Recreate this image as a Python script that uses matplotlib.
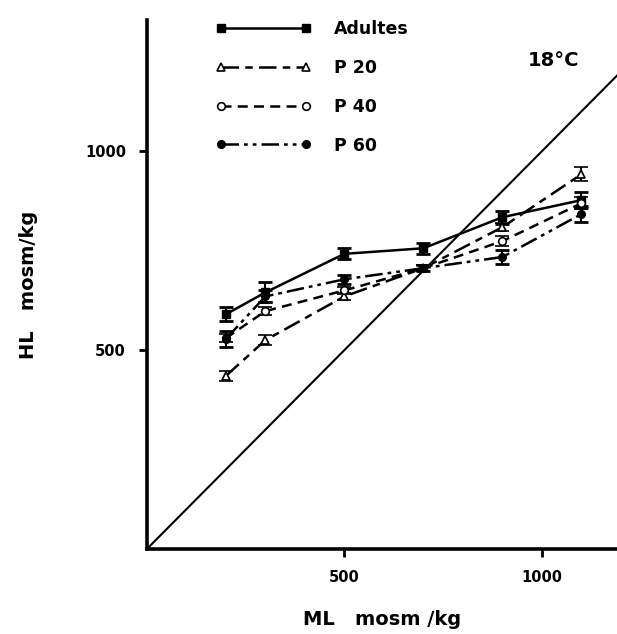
import numpy as np
import matplotlib.pyplot as plt

plt.rcParams["font.family"] = ["DejaVu Sans"]
plt.rcParams["font.weight"] = "bold"

# concentration du milieu (ML) et du sang (HL), mosm/kg
ml = [200, 300, 500, 700, 900, 1100]

adultes = [590, 645, 742, 756, 834, 877]
adultes_err = [18, 25, 14, 14, 16, 20]

p20 = [435, 525, 635, 706, 809, 942]
p20_err = [12, 12, 8, 8, 10, 18]

p40 = [530, 598, 650, 706, 774, 869]
p40_err = [10, 10, 8, 8, 12, 15]

p60 = [528, 635, 678, 706, 734, 842]
p60_err = [20, 15, 12, 8, 18, 20]

fig = plt.figure(figsize=(6.17, 6.34), dpi=100)
ax = fig.add_axes([0.238, 0.134, 0.762, 0.834])

# droite isosmotique
ax.plot([0, 1400], [0, 1400], color="black", lw=1.5, zorder=1)

lw = 1.8
common = dict(color="black", lw=lw, ms=5.5, capsize=5, elinewidth=1.5,
              capthick=2, zorder=3)
ax.errorbar(ml, adultes, yerr=adultes_err, ls="-", marker="s", mfc="black",
            label="Adultes", **common)
ax.errorbar(ml, p20, yerr=p20_err, ls=(0, (7, 2.5, 3, 2.5)), marker="^",
            mfc="white", mew=1.2, label="P 20", **common)
ax.errorbar(ml, p40, yerr=p40_err, ls=(0, (4, 2.5)), marker="o",
            mfc="white", mew=1.2, label="P 40", **common)
ax.errorbar(ml, p60, yerr=p60_err, ls=(0, (7, 2, 1.5, 2, 1.5, 2)),
            marker="o", mfc="black", label="P 60", **common)

ax.set_xlim(0, 1190)
ax.set_ylim(0, 1329)

for side in ["top", "right"]:
    ax.spines[side].set_visible(False)
for side in ["left", "bottom"]:
    ax.spines[side].set_linewidth(2.6)

ax.set_xticks([500, 1000])
ax.set_yticks([500, 1000])
ax.tick_params(direction="out", length=6, width=2, labelsize=10.5, pad=9)

ax.set_xlabel("ML   mosm /kg", fontsize=14, fontweight="bold", labelpad=18)
ax.set_ylabel("HL   mosm/kg", fontsize=14, fontweight="bold", labelpad=34)

ax.text(965, 1215, "18°C", fontsize=14, fontweight="bold")

handles, labels = ax.get_legend_handles_labels()
handles = [h[0] for h in handles]
leg = ax.legend(handles, labels, loc="upper left", bbox_to_anchor=(0.114, 1.03),
                frameon=False, numpoints=2, handlelength=5.5, handletextpad=1.3,
                labelspacing=1.2, fontsize=12.5)
for t in leg.get_texts():
    t.set_fontweight("bold")

fig.savefig("out.png", dpi=100)
